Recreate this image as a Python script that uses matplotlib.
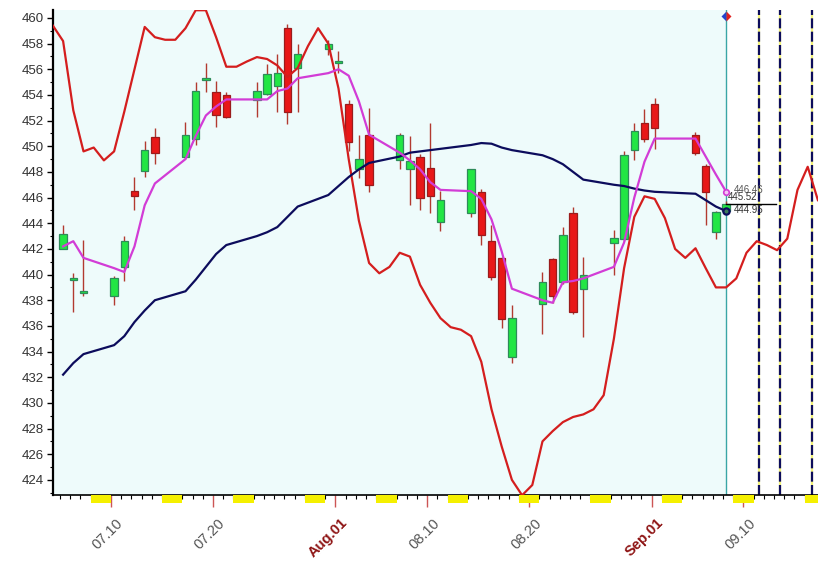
import numpy as np
import matplotlib
matplotlib.use("Agg")
import matplotlib.pyplot as plt
from matplotlib.patches import Rectangle
from matplotlib.transforms import ScaledTranslation

plt.rcParams['font.family'] = ['Liberation Sans', 'DejaVu Sans']

# ----------------------------
# data
# ----------------------------
trade_dates = [
    "2023-07-05", "2023-07-06", "2023-07-07",
    "2023-07-10", "2023-07-11", "2023-07-12", "2023-07-13", "2023-07-14",
    "2023-07-17", "2023-07-18", "2023-07-19", "2023-07-20", "2023-07-21",
    "2023-07-24", "2023-07-25", "2023-07-26", "2023-07-27", "2023-07-28",
    "2023-07-31", "2023-08-01", "2023-08-02", "2023-08-03", "2023-08-04",
    "2023-08-07", "2023-08-08", "2023-08-09", "2023-08-10", "2023-08-11",
    "2023-08-14", "2023-08-15", "2023-08-16", "2023-08-17", "2023-08-18",
    "2023-08-21", "2023-08-22", "2023-08-23", "2023-08-24", "2023-08-25",
    "2023-08-28", "2023-08-29", "2023-08-30", "2023-08-31", "2023-09-01",
    "2023-09-05", "2023-09-06", "2023-09-07", "2023-09-08",
]
opens = [
    442.0, 439.55, 438.6,
    438.3, 440.6, 446.5, 448.1, 450.7,
    449.2, 450.6, 455.2, 454.2, 454.0,
    453.6, 454.1, 454.7, 459.2, 456.1,
    457.6, 456.5, 453.3, 448.2, 450.9,
    448.9, 448.2, 449.2, 448.3, 444.1,
    444.8, 446.4, 442.6, 441.3, 433.6,
    437.7, 441.2, 439.4, 444.8, 438.9,
    442.45, 442.8, 449.7, 451.8, 453.3,
    450.9, 448.5, 443.3, 444.95,
]
highs = [
    443.9, 440.1, 442.7,
    439.9, 443.0, 447.6, 450.4, 451.4,
    451.9, 455.0, 456.5, 455.1, 454.2,
    455.0, 456.4, 457.2, 459.5, 458.0,
    458.3, 457.4, 453.6, 450.9, 453.0,
    451.0, 450.8, 449.4, 451.8, 446.5,
    448.2, 446.7, 443.9, 441.4, 437.6,
    440.2, 441.3, 443.7, 445.3, 441.4,
    443.5, 449.6, 451.8, 452.9, 453.8,
    451.1, 448.6, 444.95, 445.7,
]
lows = [
    442.0, 437.1, 438.3,
    437.6, 439.5, 445.0, 447.6, 448.6,
    449.0, 450.1, 454.2, 451.5, 452.2,
    452.3, 454.0, 452.7, 451.7, 452.7,
    457.1, 455.7, 449.6, 447.5, 446.4,
    448.2, 445.4, 445.0, 444.8, 443.4,
    444.5, 442.3, 439.6, 435.8, 433.1,
    435.4, 437.8, 439.3, 436.9, 435.1,
    440.0, 442.6, 448.9, 450.3, 449.8,
    449.3, 443.9, 442.8, 444.9,
]
closes = [
    443.2, 439.7, 438.65,
    439.7, 442.6, 446.15, 449.7, 449.45,
    450.9, 454.3, 455.3, 452.4, 452.3,
    454.3, 455.6, 455.7, 452.7, 457.2,
    458.0, 456.6, 450.3, 449.0, 447.0,
    450.9, 448.85, 446.0, 446.1, 445.8,
    448.2, 443.1, 439.8, 436.5, 436.6,
    439.4, 438.3, 443.1, 437.1, 440.0,
    442.85, 449.3, 451.2, 450.6, 451.4,
    449.45, 446.4, 444.9, 445.52,
]
# magenta short average
fast_line = [
    442.2, 442.6, 441.3,
    440.5, 440.2, 442.2, 445.4, 447.1,
    449.0, 450.8, 452.4, 453.1, 453.65,
    453.65, 453.65, 454.3, 454.5, 455.3,
    455.7, 456.0, 455.5, 453.5, 450.9,
    449.5, 448.9, 448.2, 447.2, 446.6,
    446.5, 445.9, 444.3, 441.8, 438.9,
    438.0, 437.8, 439.4, 439.5, 439.7,
    440.6, 442.5, 446.0, 448.8, 450.6,
    450.6, 449.2, 447.8, 446.46,
]
# navy long average
slow_line = [
    432.2, 433.1, 433.8,
    434.5, 435.2, 436.3, 437.2, 438.0,
    438.7, 439.6, 440.6, 441.6, 442.3,
    443.0, 443.3, 443.7, 444.5, 445.3,
    446.2, 446.9, 447.6, 448.2, 448.7,
    449.2, 449.5, 449.6, 449.7, 449.8,
    450.1, 450.25, 450.2, 449.9, 449.7,
    449.3, 449.0, 448.6, 448.0, 447.4,
    447.0, 446.9, 446.7, 446.55, 446.45,
    446.3, 445.8, 445.3, 444.95,
]
# red cycle curve, one value per calendar day from 07.04
curve_start = "2023-07-04"
cycle_curve = [
    459.4, 458.2, 452.8, 449.6, 449.9, 448.9, 449.6, 452.7, 456.0, 459.3,
    458.5, 458.3, 458.3, 459.2, 460.6, 460.6, 458.5, 456.2, 456.2, 456.6,
    456.95, 456.8, 456.3, 455.4, 456.1, 457.8, 459.2, 458.0,
    454.5, 449.0, 444.2, 440.9, 440.1, 440.6, 441.7, 441.4, 439.2, 437.8,
    436.6, 435.9, 435.7, 435.2, 433.2, 429.5, 426.6, 424.0, 422.8, 423.6,
    427.0, 427.8, 428.5, 428.9, 429.1, 429.5, 430.6, 435.0, 440.5, 444.5,
    446.1,
    445.9, 444.4, 442.0, 441.3, 442.05, 440.5, 439.0, 439.0, 439.7, 441.7,
    442.6, 442.3, 441.9, 442.8, 446.6, 448.4, 445.8,
]
weekend_saturdays = ["2023-07-08", "2023-07-15", "2023-07-22", "2023-07-29",
                     "2023-08-05", "2023-08-12", "2023-08-19", "2023-08-26",
                     "2023-09-02", "2023-09-09", "2023-09-16"]
label_dates = ["2023-07-10", "2023-07-20", "2023-08-01", "2023-08-10",
               "2023-08-20", "2023-09-01", "2023-09-10"]
label_texts = ["07.10", "07.20", "Aug.01", "08.10", "08.20", "Sep.01", "09.10"]
month_labels = ["Aug.01", "Sep.01"]
cycle_marks = [63.5, 65.6, 68.7]      # days after 07.10
last_fast, last_close, last_slow = 446.46, 445.52, 444.95

# ----------------------------
# helpers
# ----------------------------
base = np.datetime64("2023-07-10")
OFF = 0.3   # candles sit a little right of the day tick


def day(s):
    return int((np.datetime64(s) - base).astype(int))


x = np.array([day(d) for d in trade_dates]) + OFF
o = np.array(opens)
h = np.array(highs)
l = np.array(lows)
c = np.array(closes)
up = c >= o

RED = "#D41E1E"
NAVY = "#0C0C5C"
MAG = "#D23CD6"

fig = plt.figure(figsize=(8.18, 5.67), dpi=100)
ax = fig.add_axes([53 / 818, 72 / 567, 765 / 818, 485 / 567])
ax.set_xlim(-5.69, 69.31)
ax.set_ylim(422.82, 460.62)

x_now = day(trade_dates[-1]) + OFF
ax.axvspan(-6, x_now, color="#EEFBFB", zorder=0, lw=0)

# dashed forecast verticals
for m in cycle_marks:
    ax.axvline(m, color="#F2F27A", lw=1.6, zorder=1)
    ax.axvline(m, color=NAVY, lw=1.6, dashes=(4.5, 1.5), zorder=1.1)

ax.axvline(x_now, color="#3AA6A6", lw=1, zorder=1.2)

# candles
ax.vlines(x, l, h, color="#B23A30", lw=1, zorder=2)
body = np.maximum(np.abs(c - o), 0.12)
ax.bar(x[up], body[up], bottom=np.minimum(o, c)[up], width=0.72,
       color="#22E644", edgecolor="#2E8B5A", lw=0.9, zorder=3)
ax.bar(x[~up], body[~up], bottom=np.minimum(o, c)[~up], width=0.72,
       color="#E81818", edgecolor="#9A1C1C", lw=0.9, zorder=3)

# lines
xc = day(curve_start) + np.arange(len(cycle_curve)) + OFF
ax.plot(xc, cycle_curve, color=RED, lw=1.6, zorder=4)
ax.plot(x, slow_line, color=NAVY, lw=1.6, zorder=4)
ax.plot(x, fast_line, color=MAG, lw=1.6, zorder=4)

# last-value markers and labels
ax.plot([x_now, x_now + 4.9], [last_close] * 2, color="black", lw=1, zorder=5)
ax.plot(x_now, last_fast, "o", ms=4, mfc="#F4C8F4", mec=MAG, mew=1.2, zorder=6)
ax.plot(x_now, last_slow, "o", ms=4.5, mfc="#3C7C5C", mec=NAVY, mew=1.6, zorder=6)
ax.plot(x_now, 460.16, "D", ms=5, fillstyle="left", mfc="#2244CC",
        mfcalt="#E02020", mec="none", zorder=6, clip_on=False)
ax.text(x_now + 0.8, last_fast + 0.15, f"{last_fast:.2f}", fontsize=7,
        color="#555555", va="center", ha="left", zorder=6)
ax.text(x_now + 0.2, last_close + 0.55, f"{last_close:.2f}", fontsize=7,
        color="#333333", va="center", ha="left", zorder=6)
ax.text(x_now + 0.8, last_slow + 0.1, f"{last_slow:.2f}", fontsize=7,
        color="#333333", va="center", ha="left", zorder=6)

# weekend blocks under the axis
for s in weekend_saturdays:
    ax.add_patch(Rectangle((day(s), -8 / 485), 2, 8 / 485,
                           transform=ax.get_xaxis_transform(),
                           color="#F5F000", lw=0, clip_on=False, zorder=3))

# axes styling
for side in ["top", "right"]:
    ax.spines[side].set_visible(False)
ax.spines["left"].set_linewidth(1.6)
ax.spines["bottom"].set_linewidth(1.2)

ax.set_yticks(np.arange(424, 461, 2))
ax.set_yticks(np.arange(423, 461, 1), minor=True)
ax.tick_params(axis="y", which="major", length=4.3, width=1, labelsize=9.5,
               labelcolor="#333333", pad=2)
ax.tick_params(axis="y", which="minor", length=2.2, width=0.8)

ax.set_xticks([day(d) for d in label_dates])
ax.set_xticks(np.arange(-5, 70), minor=True)
ax.set_xticklabels([])
ax.tick_params(axis="x", which="major", length=8.5, width=1, color="#CC5555")
ax.tick_params(axis="x", which="minor", length=2.8, width=0.8, color="black")

shift = ScaledTranslation(0.05, -0.21, fig.dpi_scale_trans)
for d, s in zip(label_dates, label_texts):
    is_month = s in month_labels
    ax.text(day(d), 0, s, transform=ax.get_xaxis_transform() + shift,
            rotation=45, rotation_mode="anchor", ha="right", va="top",
            fontsize=10.5, fontweight="bold" if is_month else "normal",
            color="#8E1414" if is_month else "#555555")

fig.savefig("out.png", dpi=100)
